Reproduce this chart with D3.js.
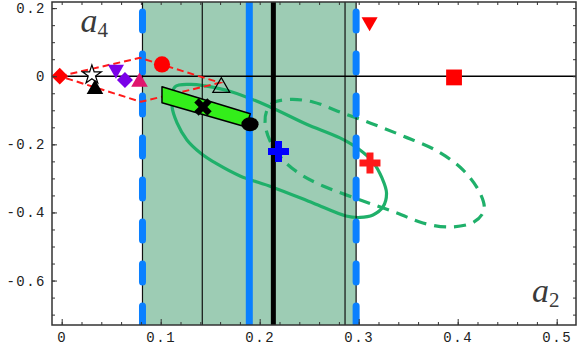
<!DOCTYPE html>
<html>
<head>
<meta charset="utf-8">
<script src="https://cdn.jsdelivr.net/npm/d3@7"></script>
<style>
  body { margin: 0; background: #fff; }
  svg { display: block; }
  .axis text { font-family: "Liberation Mono", "DejaVu Sans Mono", monospace; font-size: 14px; letter-spacing: 1.5px; fill: #222; }
  .axis line { stroke: #333; stroke-width: 1; }
  .lbl { font-family: "Liberation Serif", "DejaVu Serif", serif; fill: #3a3a3a; }
</style>
</head>
<body>
<svg width="585" height="349"></svg>
<script>
// tick labels
var xTicks = [0, 0.1, 0.2, 0.3, 0.4, 0.5],
    yTicks = [-0.6, -0.4, -0.2, 0, 0.2];

// shaded band and vertical reference lines (a2 values)
var band = [0.0816, 0.2974];
var thinLines = [0.0816, 0.142, 0.2862, 0.2974];
var blueSolid = [0.1895];
var blueDashed = [0.0816, 0.2974];
var blackThick = [0.2138];

// red dashed quadrilateral
var redPolygon = [[-0.002, 0], [0.079, 0.054], [0.160, -0.019], [0.080, -0.075]];

// green regions, outline
var solidEllipse = [
  [0.1144, -0.0314], [0.1296, -0.0241], [0.1447, -0.0285], [0.1720, -0.0461],
  [0.2084, -0.0872], [0.2468, -0.1401], [0.2811, -0.1812], [0.3013, -0.2164],
  [0.3144, -0.2517], [0.3235, -0.2987], [0.3281, -0.3428], [0.3245, -0.3839],
  [0.3144, -0.4074], [0.3013, -0.4147], [0.2872, -0.4103], [0.2538, -0.3721],
  [0.2124, -0.3251], [0.1801, -0.2928], [0.1569, -0.2576], [0.1401, -0.2252],
  [0.1265, -0.1870], [0.1165, -0.1371], [0.1114, -0.0872]
];
var dashedEllipse = [
  [0.2134, -0.0784], [0.2306, -0.0681], [0.2538, -0.0755], [0.2781, -0.1019],
  [0.3114, -0.1372], [0.3447, -0.1753], [0.3791, -0.2193], [0.4053, -0.2751],
  [0.4225, -0.3427], [0.4266, -0.3927], [0.4165, -0.4280], [0.3922, -0.4427],
  [0.3649, -0.4310], [0.3387, -0.4016], [0.3044, -0.3663], [0.2640, -0.3222],
  [0.2407, -0.2869], [0.2235, -0.2458], [0.2104, -0.1900], [0.2054, -0.1372],
  [0.2074, -0.0990]
];
var greenBar = [[0.1013, -0.031], [0.1905, -0.110], [0.1864, -0.149], [0.1013, -0.078]];

// point estimates
var pointNames = ["diamondRed", "star", "triBlack", "triPurpleDown", "diamondPurple", "triPink",
                  "circleRed", "triOpen", "xBlack", "circleBlack", "plusBlue", "plusRed",
                  "triRedDown", "squareRed"];
var pointX = [-0.002, 0.0305, 0.0336, 0.0548, 0.0639, 0.0786, 0.1013, 0.1612, 0.1427, 0.1902, 0.219, 0.3114, 0.311, 0.3963];
var pointY = [0, 0.004, -0.038, 0.020, -0.011, -0.017, 0.0347, -0.033, -0.0902, -0.141, -0.2209, -0.2546, 0.1595, -0.0035];

var style = {
  diamondRed:    {type: d3.symbolSquare,   size: 140, fill: "#ff0000", rot: 45},
  star:          {type: d3.symbolStar,     size: 112, fill: "#fff", stroke: "#000"},
  triBlack:      {type: d3.symbolTriangle, size: 120, fill: "#000"},
  triPurpleDown: {type: d3.symbolTriangle, size: 112, fill: "#7a00e8", rot: 180},
  diamondPurple: {type: d3.symbolSquare,   size: 128, fill: "#7a00e8", rot: 45},
  triPink:       {type: d3.symbolTriangle, size: 120, fill: "#e0156e"},
  circleRed:     {type: d3.symbolCircle,   size: 205, fill: "#ff0000"},
  triOpen:       {type: d3.symbolTriangle, size: 125, fill: "none", stroke: "#000"},
  xBlack:        {type: d3.symbolCross,    size: 190, fill: "#000", rot: 45},
  circleBlack:   {type: "ellipse", fill: "#000"},
  plusBlue:      {type: d3.symbolCross,    size: 245, fill: "#0000ff"},
  plusRed:       {type: d3.symbolCross,    size: 245, fill: "#ff1a1a"},
  triRedDown:    {type: d3.symbolTriangle, size: 112, fill: "#ff0000", rot: 180},
  squareRed:     {type: d3.symbolSquare,   size: 250, fill: "#ff0000"}
};

var svg = d3.select("svg"),
    margin = {top: 2, right: 9, bottom: 24, left: 52},
    width = +svg.attr("width"),
    height = +svg.attr("height");

var x = d3.scaleLinear().domain([-0.0098, 0.5195]).range([margin.left, width - margin.right]),
    y = d3.scaleLinear().domain([-0.7305, 0.218]).range([height - margin.bottom, margin.top]);

svg.append("clipPath").attr("id", "clip")
  .append("rect")
  .attr("x", margin.left).attr("y", margin.top)
  .attr("width", width - margin.left - margin.right)
  .attr("height", height - margin.top - margin.bottom);

var g = svg.append("g").attr("clip-path", "url(#clip)");

// shaded band
g.append("rect")
  .attr("x", x(band[0])).attr("y", margin.top)
  .attr("width", x(band[1]) - x(band[0]))
  .attr("height", height - margin.top - margin.bottom)
  .style("fill", "#9dccb4");

// green ellipses
var outline = d3.line()
  .x(function(d) { return x(d[0]); })
  .y(function(d) { return y(d[1]); })
  .curve(d3.curveCatmullRomClosed);

g.append("path").datum(solidEllipse)
  .attr("d", outline)
  .style("fill", "none").style("stroke", "#1fb06a").style("stroke-width", 3.2);

g.append("path").datum(dashedEllipse)
  .attr("d", outline)
  .style("fill", "none").style("stroke", "#1fb06a").style("stroke-width", 3.2)
  .style("stroke-dasharray", "12,8");

// vertical lines
function vlines(vals, color, w, dash) {
  var sel = g.selectAll(null).data(vals).enter().append("line")
    .attr("x1", function(d) { return x(d); }).attr("x2", function(d) { return x(d); })
    .attr("y1", margin.top).attr("y2", height - margin.bottom)
    .style("stroke", color).style("stroke-width", w);
  if (dash) sel.style("stroke-dasharray", dash).style("stroke-dashoffset", 32)
    .style("stroke-linecap", "round");
  return sel;
}
vlines(thinLines, "#111", 1.2);
vlines(blueSolid, "#0a80ff", 7);
vlines(blueDashed, "#0a80ff", 7, "18,24");
vlines(blackThick, "#000", 5);

// zero line
g.append("line")
  .attr("x1", margin.left).attr("x2", width - margin.right)
  .attr("y1", y(0)).attr("y2", y(0))
  .style("stroke", "#000").style("stroke-width", 1.3);

// red dashed polygon
g.append("path").datum(redPolygon)
  .attr("d", d3.line().x(function(d) { return x(d[0]); }).y(function(d) { return y(d[1]); }).curve(d3.curveLinearClosed))
  .style("fill", "none").style("stroke", "#ff1a1a").style("stroke-width", 2)
  .style("stroke-dasharray", "7,4");

// green bar
g.append("path").datum(greenBar)
  .attr("d", d3.line().x(function(d) { return x(d[0]); }).y(function(d) { return y(d[1]); }).curve(d3.curveLinearClosed))
  .style("fill", "#33ee1a").style("stroke", "#000").style("stroke-width", 1.5)
  .style("stroke-linejoin", "round");

// markers
pointNames.forEach(function(name, i) {
  var s = style[name],
      px = x(pointX[i]), py = y(pointY[i]);
  if (s.type === "ellipse") {
    svg.append("ellipse").attr("cx", px).attr("cy", py).attr("rx", 8.6).attr("ry", 7)
      .style("fill", s.fill);
    return;
  }
  svg.append("path")
    .attr("d", d3.symbol().type(s.type).size(s.size)())
    .attr("transform", "translate(" + px + "," + py + ")" + (s.rot ? " rotate(" + s.rot + ")" : ""))
    .style("fill", s.fill)
    .style("stroke", s.stroke || "none")
    .style("stroke-width", 1.2);
});

// axes, ticks pointing inward
function fmt(d) { return d === 0 ? "0" : d.toFixed(1); }
var xMinor = d3.range(0, 0.52, 0.02),
    yMinor = d3.range(-0.7, 0.22, 0.05);

svg.append("g").attr("class", "axis")
  .attr("transform", "translate(0," + (height - margin.bottom) + ")")
  .call(d3.axisBottom(x).tickValues(xMinor).tickSize(-3).tickFormat(""))
  .call(function(a) { a.select(".domain").remove(); });
svg.append("g").attr("class", "axis")
  .attr("transform", "translate(0," + (height - margin.bottom) + ")")
  .call(d3.axisBottom(x).tickValues(xTicks).tickSize(-6).tickPadding(7).tickFormat(fmt))
  .call(function(a) { a.select(".domain").remove(); });
svg.append("g").attr("class", "axis")
  .attr("transform", "translate(0," + margin.top + ")")
  .call(d3.axisTop(x).tickValues(xMinor).tickSize(-3).tickFormat(""))
  .call(function(a) { a.select(".domain").remove(); });

svg.append("g").attr("class", "axis")
  .attr("transform", "translate(" + margin.left + ",0)")
  .call(d3.axisLeft(y).tickValues(yMinor).tickSize(-3).tickFormat(""))
  .call(function(a) { a.select(".domain").remove(); });
svg.append("g").attr("class", "axis")
  .attr("transform", "translate(" + margin.left + ",0)")
  .call(d3.axisLeft(y).tickValues(yTicks).tickSize(-5).tickPadding(6).tickFormat(fmt))
  .call(function(a) { a.select(".domain").remove(); });
svg.append("g").attr("class", "axis")
  .attr("transform", "translate(" + (width - margin.right) + ",0)")
  .call(d3.axisRight(y).tickValues(yMinor).tickSize(-3).tickFormat(""))
  .call(function(a) { a.select(".domain").remove(); });

// frame
svg.append("rect")
  .attr("x", margin.left).attr("y", margin.top)
  .attr("width", width - margin.left - margin.right)
  .attr("height", height - margin.top - margin.bottom)
  .style("fill", "none").style("stroke", "#333").style("stroke-width", 1.5);

// axis names
function axisName(xv, yv, sub) {
  var t = svg.append("text").attr("class", "lbl")
    .attr("x", x(xv)).attr("y", y(yv));
  t.append("tspan").text("a").style("font-style", "italic").style("font-size", "34px");
  t.append("tspan").text(sub).attr("dy", 5).style("font-size", "21px");
}
axisName(0.019, 0.131, "4");
axisName(0.475, -0.663, "2");
</script>
</body>
</html>
